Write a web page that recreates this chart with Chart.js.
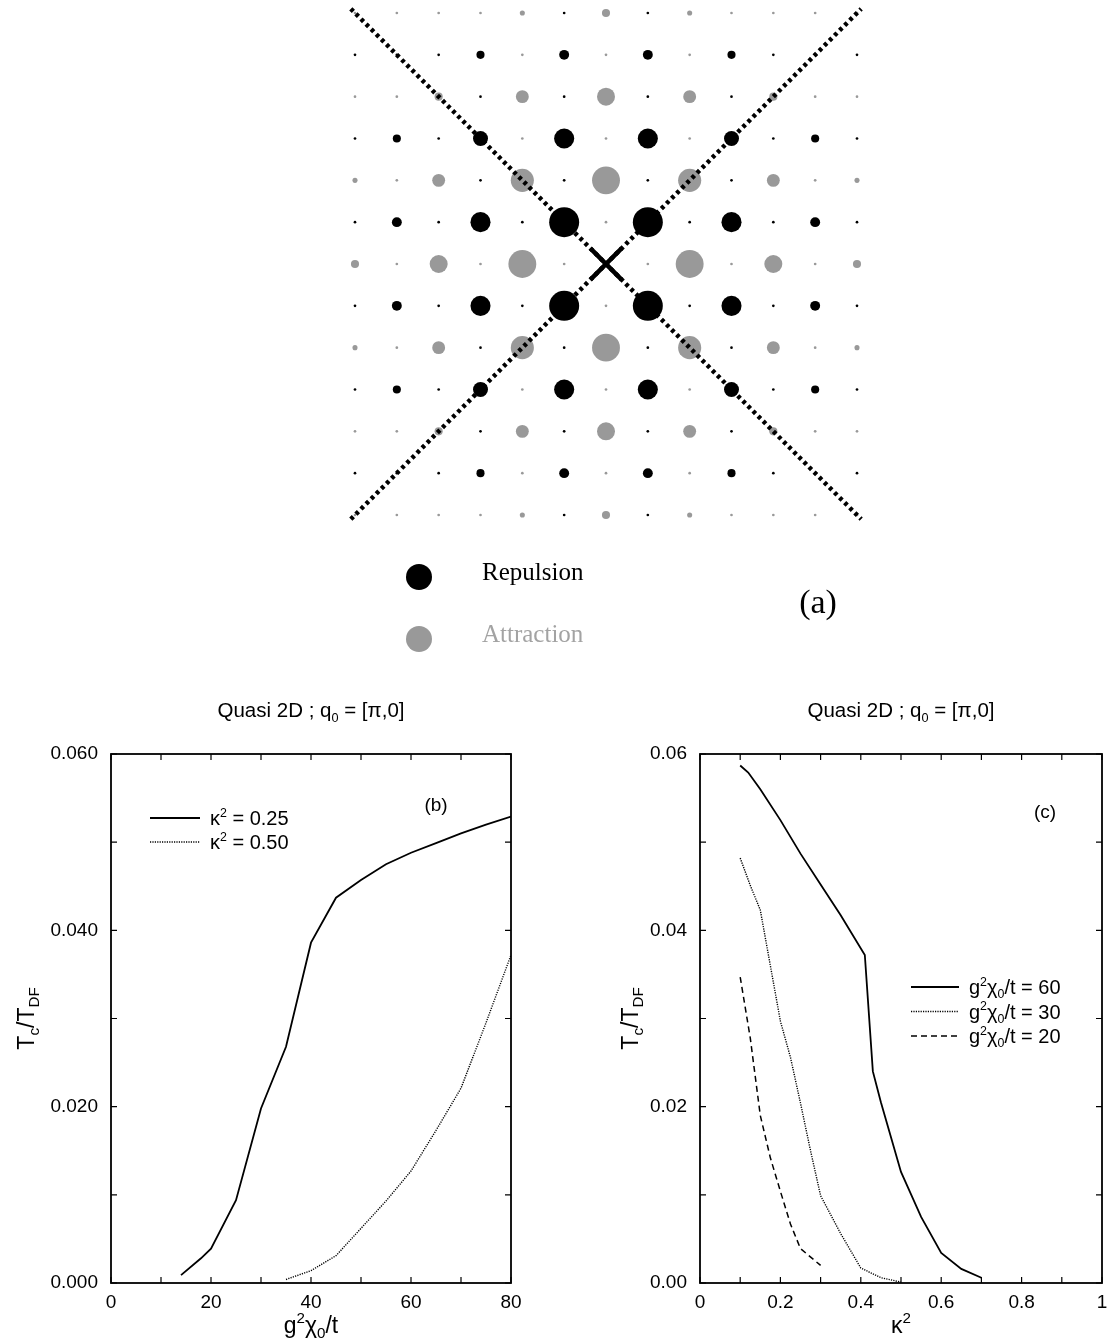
<!DOCTYPE html>
<html>
<head>
<meta charset="utf-8">
<script src="https://cdn.jsdelivr.net/npm/chart.js@4.4.0/dist/chart.umd.min.js"></script>
<style>
  body { margin: 0; background: #fff; width: 1107px; height: 1338px; position: relative; overflow: hidden; }
  canvas { position: absolute; }
</style>
</head>
<body>
<canvas id="lattice" width="1107" height="680" style="left:0px;top:0px"></canvas>
<canvas id="chartB" width="540" height="648" style="left:0px;top:690px"></canvas>
<canvas id="chartC" width="547" height="648" style="left:560px;top:690px"></canvas>
<script>
// ---- (a) lattice: one quadrant, rows |j| = 0..6, columns |i| = 0..6
// + repulsion (black), - attraction (grey), magnitude from dot size (1 = biggest)
var latticeQuadrant = [
  [ 0.00, -0.09, -0.93, -0.09, -0.60, -0.09, -0.27],
  [-0.09,  1.00,  0.09,  0.67,  0.09,  0.33,  0.09],
  [-0.93,  0.09, -0.77,  0.09, -0.43, -0.09, -0.17],
  [-0.09,  0.67, -0.09,  0.50,  0.09,  0.27,  0.09],
  [-0.60,  0.09, -0.43,  0.09, -0.27, -0.09, -0.09],
  [-0.09,  0.33, -0.09,  0.27,  0.09,  0.09,  0.09],
  [-0.27,  0.09, -0.17, -0.09, -0.09, -0.09, -0.09]
];
var latticeSize = 6;
var diagonalEnds = [-6.1, 6.1];
var legendA = ['Repulsion', 'Attraction'];

// ---- (b) Tc/TDF vs g^2 chi0 / t
var bLabels = ['κ^2 = 0.25', 'κ^2 = 0.50'];
var bX1 = [14, 18, 20, 25, 30, 35, 40, 45, 50, 55, 60, 65, 70, 75, 80];
var bY1 = [0.0009, 0.0028, 0.0039, 0.0094, 0.0198, 0.0268, 0.0386, 0.0437, 0.0457, 0.0475, 0.0488, 0.0499, 0.0510, 0.0520, 0.0529];
var bX2 = [35, 40, 45, 50, 55, 60, 65, 70, 75, 80];
var bY2 = [0.0004, 0.0014, 0.0031, 0.0062, 0.0093, 0.0127, 0.0173, 0.0221, 0.0295, 0.0372];

// ---- (c) Tc/TDF vs kappa^2
var cLabels = ['g^2χ_0/t = 60', 'g^2χ_0/t = 30', 'g^2χ_0/t = 20'];
var cX1 = [0.10, 0.12, 0.15, 0.20, 0.25, 0.30, 0.35, 0.41, 0.43, 0.45, 0.50, 0.55, 0.60, 0.65, 0.70];
var cY1 = [0.0587, 0.0579, 0.0560, 0.0525, 0.0487, 0.0452, 0.0417, 0.0372, 0.0240, 0.0205, 0.0126, 0.0075, 0.0034, 0.0016, 0.0006];
var cX2 = [0.10, 0.125, 0.15, 0.175, 0.20, 0.225, 0.25, 0.275, 0.30, 0.35, 0.40, 0.45, 0.50];
var cY2 = [0.0482, 0.0451, 0.0423, 0.0360, 0.0297, 0.0256, 0.0204, 0.0150, 0.0099, 0.0056, 0.0017, 0.0006, 0.0001];
var cX3 = [0.10, 0.125, 0.15, 0.175, 0.20, 0.225, 0.25, 0.30];
var cY3 = [0.0347, 0.0278, 0.0190, 0.0142, 0.0104, 0.0067, 0.0039, 0.0020];

var SANS = "'Liberation Sans', Arial, sans-serif";
var SERIF = "'Liberation Serif', 'Times New Roman', serif";

function pts(xs, ys) { return xs.map(function (x, i) { return { x: x, y: ys[i] }; }); }

// text with ^sup and _sub pieces
function richParts(s) {
  var parts = [], i = 0;
  while (i < s.length) {
    var c = s[i];
    if (c === '^' || c === '_') {
      var txt;
      if (s[i + 1] === '{') { var e = s.indexOf('}', i); txt = s.slice(i + 2, e); i = e + 1; }
      else { txt = s[i + 1]; i += 2; }
      parts.push({ t: txt, k: c });
    } else {
      var j = i;
      while (j < s.length && s[j] !== '^' && s[j] !== '_') j++;
      parts.push({ t: s.slice(i, j), k: '' });
      i = j;
    }
  }
  return parts;
}
function drawRich(ctx, s, x, y, size, align, family, subScale) {
  var parts = richParts(s), w = 0, sc = subScale || 0.62;
  parts.forEach(function (p) {
    p.size = p.k ? size * sc : size;
    ctx.font = p.size + 'px ' + family;
    p.w = ctx.measureText(p.t).width;
    w += p.w;
  });
  var cx = align === 'center' ? x - w / 2 : (align === 'right' ? x - w : x);
  ctx.textAlign = 'left';
  ctx.textBaseline = 'alphabetic';
  parts.forEach(function (p) {
    ctx.font = p.size + 'px ' + family;
    var dy = p.k === '^' ? -size * 0.42 : (p.k === '_' ? size * 0.22 : 0);
    ctx.fillText(p.t, cx, y + dy);
    cx += p.w;
  });
}

// ---------------- (a)
var repulsion = [], attraction = [];
for (var j = -latticeSize; j <= latticeSize; j++) {
  for (var i = -latticeSize; i <= latticeSize; i++) {
    var v = latticeQuadrant[Math.abs(j)][Math.abs(i)];
    if (v === 0) continue;
    var p = { x: i, y: j, r: 15 * Math.abs(v) };
    if (v > 0) repulsion.push(p); else attraction.push(p);
  }
}

var latticeDecor = {
  id: 'latticeDecor',
  afterDraw: function (chart) {
    var ctx = chart.ctx;
    ctx.save();
    var ds = chart.data.datasets;
    var cols = [ds[3].backgroundColor, ds[4].backgroundColor];
    var textCols = ['#000', '#a3a3a3'];
    legendA.forEach(function (name, k) {
      var y = 577 + k * 62;
      ctx.fillStyle = cols[k];
      ctx.beginPath(); ctx.arc(419, y, 13, 0, Math.PI * 2); ctx.fill();
      ctx.fillStyle = textCols[k];
      ctx.font = '25px ' + SERIF;
      ctx.textAlign = 'left'; ctx.textBaseline = 'alphabetic';
      ctx.fillText(name, 482, y + 3);
    });
    ctx.fillStyle = '#000';
    ctx.font = '34px ' + SERIF;
    ctx.textAlign = 'center';
    ctx.fillText('(a)', 818, 613);
    ctx.restore();
  }
};

new Chart(document.getElementById('lattice'), {
  type: 'bubble',
  data: {
    datasets: [
      { type: 'scatter', data: [{ x: 0, y: 0 }], pointStyle: 'crossRot', pointRadius: 22,
        pointBorderWidth: 4.5, pointBorderColor: '#000', clip: false },
      { type: 'line', data: [{ x: diagonalEnds[0], y: diagonalEnds[1] }, { x: diagonalEnds[1], y: diagonalEnds[0] }],
        borderColor: '#000', borderWidth: 4.5, borderDash: [3.6, 3.6], pointRadius: 0, clip: false },
      { type: 'line', data: [{ x: diagonalEnds[0], y: diagonalEnds[0] }, { x: diagonalEnds[1], y: diagonalEnds[1] }],
        borderColor: '#000', borderWidth: 4.5, borderDash: [3.6, 3.6], pointRadius: 0, clip: false },
      { label: legendA[0], data: repulsion, backgroundColor: '#000', borderWidth: 0, clip: false },
      { label: legendA[1], data: attraction, backgroundColor: '#999', borderWidth: 0, clip: false }
    ]
  },
  options: {
    responsive: false, animation: false, events: [],
    layout: { autoPadding: false, padding: { left: 355, right: 250, top: 13, bottom: 165 } },
    scales: {
      x: { type: 'linear', min: -latticeSize, max: latticeSize, display: false },
      y: { type: 'linear', min: -latticeSize, max: latticeSize, display: false }
    },
    plugins: { legend: { display: false }, tooltip: { enabled: false } }
  },
  plugins: [latticeDecor]
});

// ---------------- (b), (c)
var panelDecor = {
  id: 'panelDecor',
  afterDraw: function (chart, args, o) {
    var ctx = chart.ctx, a = chart.chartArea, xs = chart.scales.x, ys = chart.scales.y;
    ctx.save();
    ctx.strokeStyle = '#000';
    ctx.lineWidth = 1.2;
    ctx.beginPath();
    xs.ticks.forEach(function (t) {
      var px = xs.getPixelForValue(t.value);
      ctx.moveTo(px, a.bottom); ctx.lineTo(px, a.bottom - 6);
      ctx.moveTo(px, a.top); ctx.lineTo(px, a.top + 6);
    });
    ys.ticks.forEach(function (t) {
      var py = ys.getPixelForValue(t.value);
      ctx.moveTo(a.left, py); ctx.lineTo(a.left + 6, py);
      ctx.moveTo(a.right, py); ctx.lineTo(a.right - 6, py);
    });
    ctx.stroke();
    ctx.lineWidth = 1.8;
    ctx.strokeRect(a.left, a.top, a.right - a.left, a.bottom - a.top);

    ctx.fillStyle = '#000';
    var mid = (a.left + a.right) / 2;
    drawRich(ctx, o.title, mid, 27, 20.5, 'center', SANS);
    drawRich(ctx, o.xTitle, mid, 643, 23, 'center', SANS, 0.66);
    ctx.save();
    ctx.translate(o.yTitleX, (a.top + a.bottom) / 2);
    ctx.rotate(-Math.PI / 2);
    drawRich(ctx, 'T_c/T_{DF}', 0, 0, 23, 'center', SANS, 0.66);
    ctx.restore();
    drawRich(ctx, o.panel, o.panelX, o.panelY, 19, 'center', SANS);

    // legend
    chart.data.datasets.forEach(function (d, k) {
      var y = o.legY + k * o.legDy;
      ctx.save();
      ctx.strokeStyle = d.borderColor;
      ctx.lineWidth = d.borderWidth;
      ctx.setLineDash(d.borderDash || []);
      ctx.beginPath(); ctx.moveTo(o.legX0, y); ctx.lineTo(o.legX1, y); ctx.stroke();
      ctx.restore();
      drawRich(ctx, d.label, o.legX1 + 10, y + 7, 20, 'left', SANS);
    });
    ctx.restore();
  }
};

function lineSet(label, data, style) {
  var d = { label: label, data: data, showLine: true, pointRadius: 0, borderColor: '#000',
    borderWidth: 1.8, tension: 0, fill: false };
  if (style === 'dotted') { d.borderWidth = 1.4; d.borderDash = [1.2, 1.2]; }
  if (style === 'dashed') { d.borderWidth = 1.5; d.borderDash = [6, 4]; }
  return d;
}

function axisOpts(min, max, step, fmt, fitKey, fitVal, pad) {
  return {
    type: 'linear', min: min, max: max,
    grid: { display: false, drawTicks: false },
    border: { display: false },
    ticks: { stepSize: step, autoSkip: false, maxRotation: 0, minRotation: 0, padding: pad,
      color: '#000', font: { family: SANS, size: 19 }, callback: fmt },
    afterFit: function (s) {
      s[fitKey] = fitVal;
      s.paddingLeft = 0; s.paddingRight = 0; s.paddingTop = 0; s.paddingBottom = 0;
    }
  };
}

new Chart(document.getElementById('chartB'), {
  type: 'scatter',
  data: { datasets: [lineSet(bLabels[0], pts(bX1, bY1), 'solid'), lineSet(bLabels[1], pts(bX2, bY2), 'dotted')] },
  options: {
    responsive: false, animation: false, events: [],
    layout: { padding: { left: 0, right: 29, top: 64, bottom: 0 } },
    scales: {
      x: axisOpts(0, 80, 10, function (v) { return Math.round(v) % 20 === 0 ? String(Math.round(v)) : ''; }, 'height', 55, 8),
      y: axisOpts(0, 0.06, 0.01, function (v) { return Math.round(v * 100) % 2 === 0 ? v.toFixed(3) : ''; }, 'width', 111, 13)
    },
    plugins: {
      legend: { display: false }, tooltip: { enabled: false },
      panelDecor: { title: 'Quasi 2D ; q_0 = [π,0]', xTitle: 'g^2χ_0/t', yTitleX: 34,
        panel: '(b)', panelX: 436, panelY: 121, legX0: 150, legX1: 200, legY: 128, legDy: 24 }
    }
  },
  plugins: [panelDecor]
});

new Chart(document.getElementById('chartC'), {
  type: 'scatter',
  data: { datasets: [lineSet(cLabels[0], pts(cX1, cY1), 'solid'), lineSet(cLabels[1], pts(cX2, cY2), 'dotted'),
    lineSet(cLabels[2], pts(cX3, cY3), 'dashed')] },
  options: {
    responsive: false, animation: false, events: [],
    layout: { padding: { left: 0, right: 5, top: 64, bottom: 0 } },
    scales: {
      x: axisOpts(0, 1, 0.1, function (v) {
        var k = Math.round(v * 10);
        if (k % 2) return '';
        if (k === 0) return '0';
        if (k === 10) return '1';
        return v.toFixed(1);
      }, 'height', 55, 8),
      y: axisOpts(0, 0.06, 0.01, function (v) { return Math.round(v * 100) % 2 === 0 ? v.toFixed(2) : ''; }, 'width', 140, 13)
    },
    plugins: {
      legend: { display: false }, tooltip: { enabled: false },
      panelDecor: { title: 'Quasi 2D ; q_0 = [π,0]', xTitle: 'κ^2', yTitleX: 78,
        panel: '(c)', panelX: 485, panelY: 128, legX0: 351, legX1: 399, legY: 297, legDy: 24.5 }
    }
  },
  plugins: [panelDecor]
});
</script>
</body>
</html>
